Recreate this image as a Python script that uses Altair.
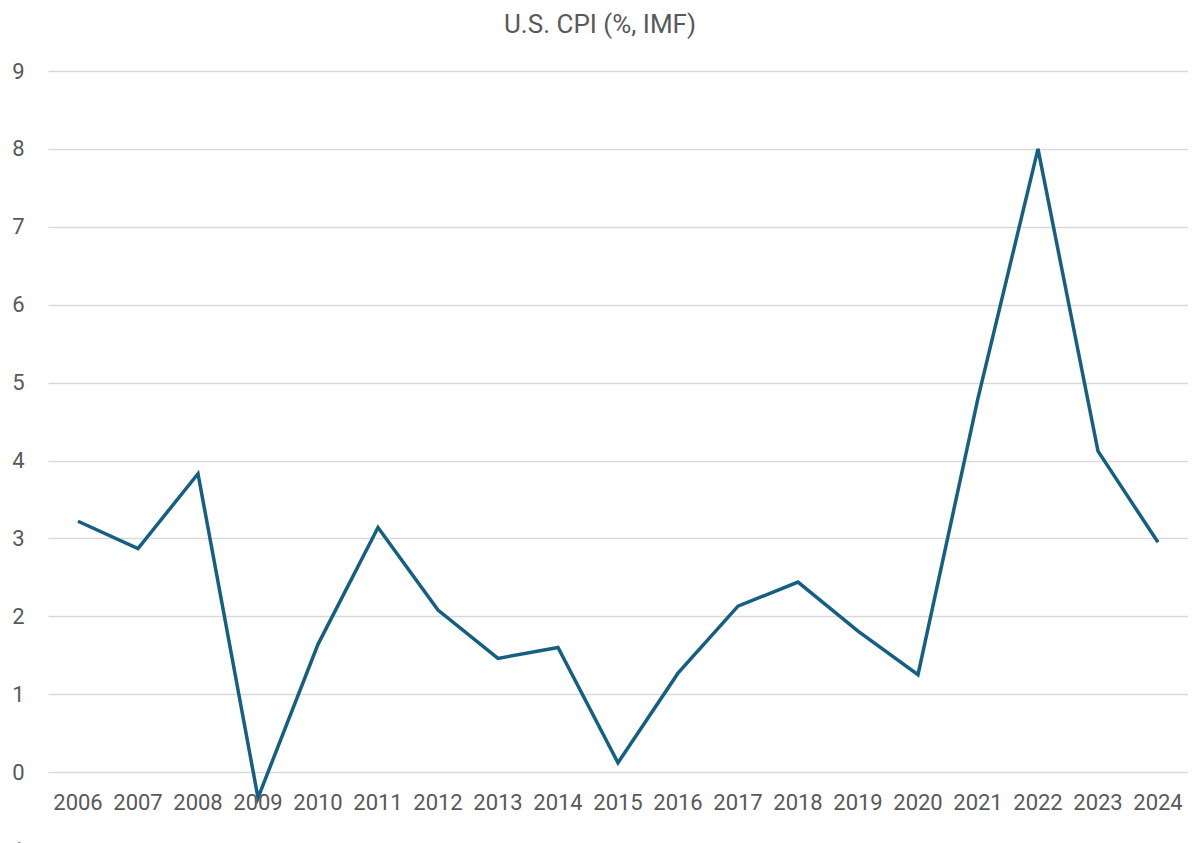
import altair as alt
import pandas as pd

years = ["2006", "2007", "2008", "2009", "2010", "2011", "2012", "2013", "2014", "2015",
         "2016", "2017", "2018", "2019", "2020", "2021", "2022", "2023", "2024"]
cpi = [3.22, 2.87, 3.83, -0.33, 1.64, 3.14, 2.08, 1.46, 1.60, 0.12,
       1.27, 2.13, 2.44, 1.81, 1.25, 4.80, 8.00, 4.12, 2.95]

df = pd.DataFrame({"year": years, "cpi": cpi})

FONT = "Roboto"
GREY = "#595959"

xscale = alt.Scale(type="point", padding=0.5)
yscale = alt.Scale(domain=[-1, 9], nice=False, zero=False)

line = alt.Chart(df).mark_line(color="#156082", strokeWidth=3.5).encode(
    x=alt.X("year:N", scale=xscale, axis=None, sort=years),
    y=alt.Y("cpi:Q", scale=yscale, title=None,
            axis=alt.Axis(values=list(range(-1, 10)), format="d", grid=True, gridColor="#d9d9d9",
                          gridWidth=1.5, ticks=False, domain=False, labelFont=FONT,
                          labelFontSize=22, labelColor=GREY, labelPadding=24)),
)

labels = alt.Chart(df).mark_text(font=FONT, fontSize=22, color=GREY, dy=31,
                                 baseline="middle", align="center").encode(
    x=alt.X("year:N", scale=xscale, axis=None, sort=years),
    y=alt.datum(0),
    text="year:N",
)

chart = alt.layer(line, labels).properties(
    width=1140,
    height=779,
    title=alt.TitleParams("U.S. CPI (%, IMF)", font=FONT, fontSize=26, color=GREY,
                          fontWeight="normal", anchor="middle", dx=-18, offset=22),
    autosize=alt.AutoSizeParams(type="none"),
    padding={"left": 40, "top": 63, "right": 0, "bottom": 0},
).configure_view(stroke=None)

chart.save("out.html", embed_options={"renderer": "svg", "actions": False})
